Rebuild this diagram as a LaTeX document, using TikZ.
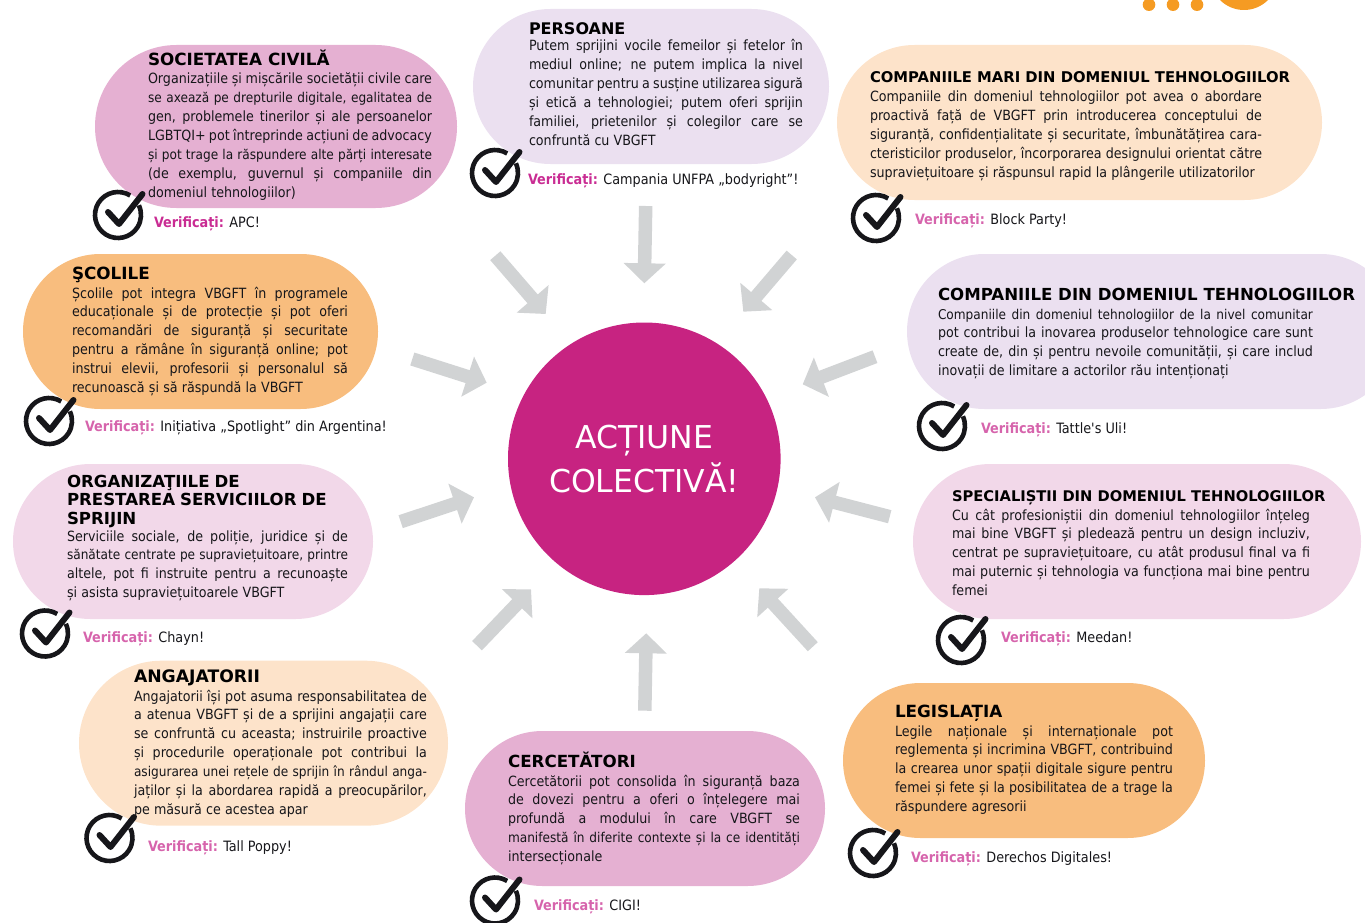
\documentclass[tikz,border=0pt]{standalone}
\usepackage{fontspec}
\setmainfont{DejaVu Sans Condensed}
\newfontfamily\hf{DejaVu Sans}
\newfontfamily\plainf{DejaVu Sans Condensed}
\usetikzlibrary{arrows.meta}
\definecolor{cpink}{HTML}{E5B0D2}
\definecolor{clav}{HTML}{EBE0F0}
\definecolor{cpeach}{HTML}{FDE3CA}
\definecolor{corange}{HTML}{F8BD7E}
\definecolor{clpink}{HTML}{F2D8E9}
\definecolor{cmag}{HTML}{C72381}
\definecolor{cverd}{HTML}{C92C93}
\definecolor{cverl}{HTML}{D664AC}
\definecolor{cgrayarrow}{HTML}{D1D3D4}
\definecolor{cdeco}{HTML}{F59B23}
\definecolor{cink}{HTML}{16161A}
\newlength\bw
\newcommand\blk[2]{\setlength\bw{#1pt}\vtop{\baselineskip=18.85pt\lineskiplimit=-100pt #2}}
\newcommand\jl[1]{\hbox to \bw{\spaceskip=.3em plus 1fil minus .22em\relax #1}}
\newcommand\jt[1]{\hbox to \bw{\fontsize{13.5}{18.85}\selectfont\spaceskip=.3em plus 1fil minus .22em\relax #1}}
\newcommand\nl[1]{\hbox{\spaceskip=.3em\relax #1}}
\newcommand\vl[3]{{\bfseries\color{#1}Verificați:} #2}
\tikzset{
  bubble/.style={shape=rectangle,inner sep=0pt,outer sep=0pt,rounded corners=77.4pt},
  body/.style={anchor=base west,inner sep=0pt,outer sep=0pt,text=cink,font=\fontsize{14.1}{18.85}\selectfont},
  head/.style={anchor=base west,inner sep=0pt,outer sep=0pt,text=black,font=\hf\bfseries\fontsize{#1}{18.85}\selectfont},
  verif/.style={anchor=base west,inner sep=0pt,outer sep=0pt,text=cink,font=\fontsize{14.25}{18.85}\selectfont},
  inflow/.style={draw=cgrayarrow,line width=13.5pt,-{Triangle[width=41pt,length=20pt,color=cgrayarrow]}},
  pics/chk/.style={code={
    \draw[cink,line width=4.6pt,x=1pt,y=1pt] (58:23pt) arc[start angle=58,end angle=385,radius=23pt];
    \draw[cink,line width=6pt,line cap=round,line join=round,x=1pt,y=1pt] (-10,3) -- (1,-9) -- (24.5,21);
  }}
}
\begin{document}
\begin{tikzpicture}[x=1pt,y=-1pt]
\useasboundingbox (0,0) rectangle (1365,923);
\clip (0,0) rectangle (1365,923);
% decoration
\fill[cdeco] (1149,4.7) circle[radius=6.3pt] (1173,4.7) circle[radius=6.3pt] (1197,4.7) circle[radius=6.3pt] (1244,-23.8) circle[radius=33.8pt];
% bubbles
\node[bubble,fill=cpink,minimum width=362pt,minimum height=163pt,rounded corners=81.4pt] (b1) at (276,126.5) {};
\node[bubble,fill=clav,minimum width=356pt,minimum height=155pt] (b2) at (651,86.5) {};
\node[bubble,fill=cpeach,minimum width=485pt,minimum height=155pt] (b3) at (1079.5,122.5) {};
\node[bubble,fill=clav,minimum width=491pt,minimum height=155pt] (b4) at (1152.5,331.5) {};
\node[bubble,fill=clpink,minimum width=448pt,minimum height=155pt] (b5) at (1137,541.5) {};
\node[bubble,fill=corange,minimum width=362pt,minimum height=155pt] (b6) at (1024,760.5) {};
\node[bubble,fill=cpink,minimum width=360pt,minimum height=155pt] (b7) at (645,808.5) {};
\node[bubble,fill=cpeach,minimum width=369pt,minimum height=165pt,rounded corners=82.4pt] (b8) at (263.5,743.2) {};
\node[bubble,fill=clpink,minimum width=360pt,minimum height=155pt] (b9) at (193,541.5) {};
\node[bubble,fill=corange,minimum width=355pt,minimum height=155pt] (b10) at (200.5,331.5) {};
% centre
\node[shape=circle,fill=cmag,inner sep=0pt,minimum size=272.6pt,text=white,align=center,font=\hf\fontsize{31.5}{44}\selectfont] (ctr) at (644.3,458.8) {ACȚIUNE\\COLECTIVĂ!};
% arrows
\coordinate (s1) at (495.3,255.7); \coordinate (e1) at (545.7,314);
\coordinate (s2) at (645.7,206);   \coordinate (e2) at (644.3,283.3);
\coordinate (s3) at (791.7,255);   \coordinate (e3) at (743.3,311.7);
\coordinate (s4) at (412.3,359);   \coordinate (e4) at (486.7,382.7);
\coordinate (s5) at (875,356.7);   \coordinate (e5) at (802.7,384.3);
\coordinate (s6) at (400.7,521.7); \coordinate (e6) at (474,497.3);
\coordinate (s7) at (889.7,516.7); \coordinate (e7) at (815,497.3);
\coordinate (s8) at (477,645.7);   \coordinate (e8) at (531,589.3);
\coordinate (s9) at (644.8,710.7); \coordinate (e9) at (646.2,633.3);
\coordinate (s10) at (812.8,646.7);\coordinate (e10) at (759.3,588.3);
\foreach \i in {1,...,10} \draw[inflow] (s\i) -- (e\i);
% Societatea
\node[head=16.8] (h1) at (148,66) {SOCIETATEA CIVILĂ};
\node[body] (t1) at (148,84) {\blk{284}{%
\jl{Organizațiile și mișcările societății civile care}
\jt{se axează pe drepturile digitale, egalitatea de}
\jl{gen, problemele tinerilor și ale persoanelor}
\jl{LGBTQI+ pot întreprinde acțiuni de advocacy}
\jt{și pot trage la răspundere alte părți interesate}
\jl{(de exemplu, guvernul și companiile din}
\nl{domeniul tehnologiilor)}}};
\pic (c1) at (118,215) {chk};
\node[verif] (v1) at (154,227) {\vl{cverd}{APC!}{}};
% Persoane
\node[head=16] (h2) at (529,35) {PERSOANE};
\node[body] (t2) at (529,51) {\blk{274}{%
\jl{Putem sprijini vocile femeilor și fetelor în}
\jl{mediul online; ne putem implica la nivel}
\jl{comunitar pentru a susține utilizarea sigură}
\jl{și etică a tehnologiei; putem oferi sprijin}
\jl{familiei, prietenilor și colegilor care se}
\nl{confruntă cu VBGFT}}};
\pic (c2) at (495,173) {chk};
\node[verif] (v2) at (528,184) {\vl{cverd}{Campania UNFPA „bodyright”!}{}};
% Companiile mari
\node[head=14.8] (h3) at (870,83) {COMPANIILE MARI DIN DOMENIUL TEHNOLOGIILOR};
\node[body] (t3) at (870,102) {\blk{392}{%
\jl{Companiile din domeniul tehnologiilor pot avea o abordare}
\jl{proactivă față de VBGFT prin introducerea conceptului de}
\jl{siguranță, confidențialitate și securitate, îmbunătățirea cara-}
\jl{cteristicilor produselor, încorporarea designului orientat către}
\nl{supraviețuitoare și răspunsul rapid la plângerile utilizatorilor}}};
\pic (c3) at (876,218) {chk};
\node[verif] (v3) at (915,224) {\vl{cverl}{Block Party!}{}};
% Companiile din
\node[head=16.6] (h4) at (938,300) {COMPANIILE DIN DOMENIUL TEHNOLOGIILOR};
\node[body] (t4) at (938,319) {\blk{375}{%
\jt{Companiile din domeniul tehnologiilor de la nivel comunitar}
\jl{pot contribui la inovarea produselor tehnologice care sunt}
\jl{create de, din și pentru nevoile comunității, și care includ}
\nl{inovații de limitare a actorilor rău intenționați}}};
\pic (c4) at (942,426) {chk};
\node[verif] (v4) at (981,433) {\vl{cverl}{Tattle{\plainf\char39}s Uli!}{}};
% Specialistii
\node[head=14.7] (h5) at (952,501) {SPECIALIȘTII DIN DOMENIUL TEHNOLOGIILOR};
\node[body] (t5) at (952,520) {\blk{358}{%
\jl{Cu cât profesioniștii din domeniul tehnologiilor înțeleg}
\jl{mai bine VBGFT și pledează pentru un design incluziv,}
\jl{centrat pe supraviețuitoare, cu atât produsul final va fi}
\jl{mai puternic și tehnologia va funcționa mai bine pentru}
\nl{femei}}};
\pic (c5) at (961,640) {chk};
\node[verif] (v5) at (1001,642) {\vl{cverl}{Meedan!}{}};
% Legislatia
\node[head=16.8] (h6) at (895,717) {LEGISLAȚIA};
\node[body] (t6) at (895,736) {\blk{278}{%
\jl{Legile naționale și internaționale pot}
\jl{reglementa și incrimina VBGFT, contribuind}
\jl{la crearea unor spații digitale sigure pentru}
\jl{femei și fete și la posibilitatea de a trage la}
\nl{răspundere agresorii}}};
\pic (c6) at (873,853) {chk};
\node[verif] (v6) at (911,862) {\vl{cverl}{Derechos Digitales!}{}};
% Cercetatori
\node[head=16.7] (h7) at (508,767) {CERCETĂTORI};
\node[body] (t7) at (508,786) {\blk{292}{%
\jl{Cercetătorii pot consolida în siguranță baza}
\jl{de dovezi pentru a oferi o înțelegere mai}
\jl{profundă a modului în care VBGFT se}
\jt{manifestă în diferite contexte și la ce identități}
\nl{intersecționale}}};
\pic (c7) at (495,900.5) {chk};
\node[verif] (v7) at (534,910) {\vl{cverl}{CIGI!}{}};
% Angajatorii
\node[head=17.2] (h8) at (134,682) {ANGAJATORII};
\node[body] (t8) at (134,701) {\blk{293}{%
\jl{Angajatorii își pot asuma responsabilitatea de}
\jl{a atenua VBGFT și de a sprijini angajații care}
\jl{se confruntă cu aceasta; instruirile proactive}
\jl{și procedurile operaționale pot contribui la}
\jt{asigurarea unei rețele de sprijin în rândul anga-}
\jl{jaților și la abordarea rapidă a preocupărilor,}
\nl{pe măsură ce acestea apar}}};
\pic (c8) at (109.5,838) {chk};
\node[verif] (v8) at (148,851) {\vl{cverl}{Tall Poppy!}{}};
% Organizatiile
\node[head=16.6] (h9) at (67,487) {\blk{300}{%
\nl{ORGANIZAŢIILE DE}
\nl{PRESTAREA SERVICIILOR DE}
\nl{SPRIJIN}}};
\node[body] (t9) at (67,541) {\blk{281}{%
\jl{Serviciile sociale, de poliție, juridice și de}
\jt{sănătate centrate pe supraviețuitoare, printre}
\jl{altele, pot fi instruite pentru a recunoaște}
\nl{și asista supraviețuitoarele VBGFT}}};
\pic (c9) at (45,633.5) {chk};
\node[verif] (v9) at (83,642) {\vl{cverl}{Chayn!}{}};
% Scolile
\node[head=16.8] (h10) at (72,279) {ŞCOLILE};
\node[body] (t10) at (72,298) {\blk{276}{%
\jl{Școlile pot integra VBGFT în programele}
\jl{educaționale și de protecție și pot oferi}
\jl{recomandări de siguranță și securitate}
\jl{pentru a rămâne în siguranță online; pot}
\jl{instrui elevii, profesorii și personalul să}
\nl{recunoască și să răspundă la VBGFT}}};
\pic (c10) at (49,421) {chk};
\node[verif] (v10) at (85,431) {\vl{cverl}{Inițiativa „Spotlight” din Argentina!}{}};
\end{tikzpicture}
\end{document}
